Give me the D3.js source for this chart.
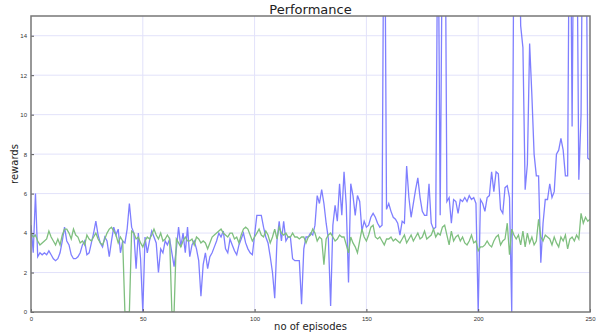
<!DOCTYPE html>
<html>
<head>
<meta charset="utf-8">
<script src="https://cdn.jsdelivr.net/npm/d3@7"></script>
<style>
  body { margin: 0; background: #fff; }
  svg { display: block; font-family: "DejaVu Sans", sans-serif; }
</style>
</head>
<body>
<div id="chart"></div>
<script>
var svgWidth = 598;
var svgHeight = 335;

var margin = { top: 16, right: 8, bottom: 23, left: 31 };
var width = svgWidth - margin.left - margin.right;
var height = svgHeight - margin.top - margin.bottom;

// rewards per episode (0..250)
var blueRewards = [
  4.4, 3.0, 6.0, 2.8, 3.0, 2.9, 3.0, 2.9, 3.1, 2.9,
  2.7, 2.6, 2.7, 3.0, 3.6, 4.3, 3.6, 3.4, 2.9, 2.7,
  2.7, 2.8, 3.0, 3.4, 3.6, 2.9, 3.0, 3.5, 4.0, 4.6,
  3.9, 3.5, 3.3, 3.8, 3.6, 2.8, 3.6, 4.3, 3.9, 4.2,
  3.0, 3.6, 3.5, 4.2, 5.5, 4.3, 4.0, 2.2, 4.0, 2.7,
  0.0, 3.8, 3.0, 3.6, 4.1, 3.8, 3.5, 2.0, 3.2, 3.0,
  3.6, 3.4, 3.7, 3.0, 2.3, 3.2, 4.3, 3.3, 4.0, 3.0,
  4.3, 2.8, 3.4, 3.6, 3.2, 2.6, 0.8, 2.4, 3.0, 2.2,
  2.8, 3.0, 3.3, 3.6, 4.0, 3.8, 4.1, 3.2, 3.0, 3.7,
  3.4, 3.1, 2.9, 3.4, 3.7, 4.0, 3.5, 3.2, 3.0, 2.9,
  3.9, 4.9, 4.9, 4.9, 4.3, 3.8, 3.5, 2.8, 2.0, 0.7,
  3.6, 4.6, 3.6, 4.6, 3.6, 3.8, 3.8, 2.7, 2.6, 2.6,
  2.6, 0.4, 3.2, 3.8, 3.8, 4.0, 3.9, 4.4, 5.9, 5.5,
  6.2, 5.5, 4.5, 3.7, 0.3, 4.4, 5.4, 4.6, 6.5, 4.9,
  7.1, 5.4, 1.5, 6.5, 5.9, 4.9, 5.9, 5.6, 4.1, 4.6,
  4.3, 4.4, 4.8, 5.0, 4.8, 4.5, 4.3, 4.4, 25, 5.2,
  5.5, 5.1, 4.8, 4.7, 4.5, 3.9, 4.6, 4.5, 7.4, 5.8,
  4.8, 5.5, 6.2, 6.8, 5.8, 5.1, 4.9, 4.9, 6.5, 4.5,
  4.2, 4.3, 22, 4.9, 20, 25, 5.6, 5.8, 4.5, 5.7,
  5.6, 5.0, 5.7, 5.6, 5.8, 5.6, 5.9, 5.7, 5.8, 5.5,
  0.0, 5.7, 5.5, 5.1, 5.8, 5.9, 7.1, 6.1, 7.1, 7.0,
  5.2, 5.0, 6.3, 6.4, 5.8, 0.0, 20, 25, 22, 14.5,
  13.4, 6.2, 7.5, 13.6, 11.0, 8.0, 6.9, 6.9, 2.5, 4.5,
  5.7, 5.7, 6.5, 5.8, 6.1, 8.0, 8.2, 8.8, 8.2, 6.9,
  6.9, 25, 9.4, 25, 22, 6.7, 10, 25, 25, 7.8,
  7.7
];

var greenRewards = [
  4.0, 3.8, 3.9, 3.6, 3.4, 3.5, 3.6, 3.7, 4.1, 3.8,
  3.6, 3.4, 3.7, 3.4, 3.9, 4.2, 4.2, 4.0, 3.7, 4.2,
  3.9, 3.8, 3.5, 3.6, 3.4, 3.9, 3.7, 3.6, 3.8, 4.0,
  3.7, 3.5, 3.4, 3.7, 4.0, 4.2, 4.3, 4.1, 3.9, 3.5,
  3.8, 3.6, 0.0, 0.0, 0.0, 4.1, 4.0, 3.7, 3.8, 3.5,
  3.3, 3.6, 3.8, 3.7, 3.9, 4.2, 3.9, 3.7, 4.0, 3.6,
  3.7, 3.9, 3.7, 0.0, 0.0, 3.7, 3.5, 3.3, 3.6, 3.8,
  3.6, 3.6, 3.7, 3.4, 3.8, 3.7, 3.5, 3.6, 3.5, 3.2,
  3.5, 3.8, 3.9, 4.0, 4.1, 4.2, 4.0, 3.9, 3.8, 4.0,
  4.0, 3.7, 3.8, 3.5, 3.9, 4.2, 4.3, 4.2, 3.9, 3.6,
  3.8, 4.0, 4.2, 3.9, 3.8, 4.1, 3.9, 3.5, 3.8, 4.2,
  3.7, 4.3, 4.0, 3.9, 4.0, 3.8, 3.8, 4.0, 3.8, 3.8,
  3.7, 3.8, 3.8, 3.5, 3.8, 3.9, 4.2, 4.0, 3.6, 3.8,
  3.7, 2.4, 3.7, 3.9, 4.0, 3.8, 3.6, 3.7, 3.9, 3.8,
  3.8, 3.4, 3.0, 3.8, 3.5, 3.3, 3.0, 3.6, 4.2, 3.8,
  3.6, 3.9, 4.3, 4.4, 3.8, 3.7, 3.8, 3.6, 3.4, 3.7,
  3.7, 3.8, 3.6, 3.7, 3.6, 3.5, 3.7, 3.9, 3.5, 3.7,
  3.9, 3.6, 3.8, 4.0, 3.7, 3.8, 4.1, 3.7, 3.8, 3.9,
  4.2, 3.8, 4.0, 3.9, 4.3, 4.4, 3.9, 3.4, 4.1, 3.6,
  3.8, 3.9, 3.6, 3.8, 3.5, 3.4, 3.6, 3.9, 3.5, 3.6,
  3.1, 3.3, 3.3, 3.4, 3.6, 3.4, 3.3, 3.6, 3.8, 3.9,
  3.4, 3.6, 3.7, 4.5, 2.9, 4.2, 3.9, 3.7, 3.9, 3.4,
  4.1, 3.3, 4.0, 3.5, 3.8, 3.4, 3.6, 4.7, 3.8, 3.6,
  3.9, 3.8, 3.7, 3.4, 3.8, 3.5, 3.3, 3.8, 3.6, 3.9,
  3.2, 3.7, 3.8, 3.6, 3.9, 3.7, 5.0, 4.5, 4.8, 4.6,
  4.7
];

var xTicks = [0, 50, 100, 150, 200, 250];
var yTicks = [0, 2, 4, 6, 8, 10, 12, 14];

var svg = d3.select("#chart")
  .append("svg")
  .attr("width", svgWidth)
  .attr("height", svgHeight);

var chartGroup = svg.append("g")
  .attr("transform", `translate(${margin.left}, ${margin.top})`);

var xScale = d3.scaleLinear().domain([0, 250]).range([0, width]);
var yScale = d3.scaleLinear().domain([0, 15]).range([height, 0]);

// grid
chartGroup.append("g")
  .attr("class", "grid")
  .selectAll("line.v")
  .data(xTicks.slice(1, -1))
  .enter()
  .append("line")
  .attr("x1", d => xScale(d)).attr("x2", d => xScale(d))
  .attr("y1", 0).attr("y2", height)
  .attr("stroke", "#e2e2fa").attr("stroke-width", 1);

chartGroup.append("g")
  .selectAll("line")
  .data(yTicks.slice(1))
  .enter()
  .append("line")
  .attr("x1", 0).attr("x2", width)
  .attr("y1", d => yScale(d)).attr("y2", d => yScale(d))
  .attr("stroke", "#e2e2fa").attr("stroke-width", 1);

svg.append("defs").append("clipPath")
  .attr("id", "plotClip")
  .append("rect")
  .attr("width", width).attr("height", height);

var line = d3.line()
  .x((d, i) => xScale(i))
  .y(d => yScale(d));

var lines = chartGroup.append("g").attr("clip-path", "url(#plotClip)");

lines.append("path")
  .datum(blueRewards)
  .attr("d", line)
  .attr("fill", "none")
  .attr("stroke", "#7f7fff")
  .attr("stroke-width", 1.3);

lines.append("path")
  .datum(greenRewards)
  .attr("d", line)
  .attr("fill", "none")
  .attr("stroke", "#7fbf7f")
  .attr("stroke-width", 1.3);

// axes, ticks pointing inward like matplotlib classic
var bottomAxis = d3.axisBottom(xScale).tickValues(xTicks).tickSize(-3).tickPadding(5);
var leftAxis = d3.axisLeft(yScale).tickValues(yTicks).tickSize(-3).tickPadding(4);

var xAxis = chartGroup.append("g")
  .attr("transform", `translate(0, ${height})`)
  .call(bottomAxis);

var yAxis = chartGroup.append("g")
  .call(leftAxis);

[xAxis, yAxis].forEach(function(ax) {
  ax.select(".domain").remove();
  ax.selectAll(".tick line").attr("stroke", "#555");
  ax.selectAll(".tick text")
    .attr("font-size", 6)
    .attr("fill", "#333");
});

// frame
chartGroup.append("rect")
  .attr("width", width)
  .attr("height", height)
  .attr("fill", "none")
  .attr("stroke", "#777")
  .attr("stroke-width", 1.5);

// labels
svg.append("text")
  .attr("x", margin.left + width / 2)
  .attr("y", 14)
  .attr("text-anchor", "middle")
  .attr("font-size", 13)
  .attr("fill", "#222")
  .text("Performance");

svg.append("text")
  .attr("x", margin.left + width / 2)
  .attr("y", 330)
  .attr("text-anchor", "middle")
  .attr("font-size", 10)
  .attr("fill", "#222")
  .text("no of episodes");

svg.append("text")
  .attr("transform", `translate(18, ${margin.top + height / 2}) rotate(-90)`)
  .attr("text-anchor", "middle")
  .attr("font-size", 10)
  .attr("fill", "#222")
  .text("rewards");
</script>
</body>
</html>
